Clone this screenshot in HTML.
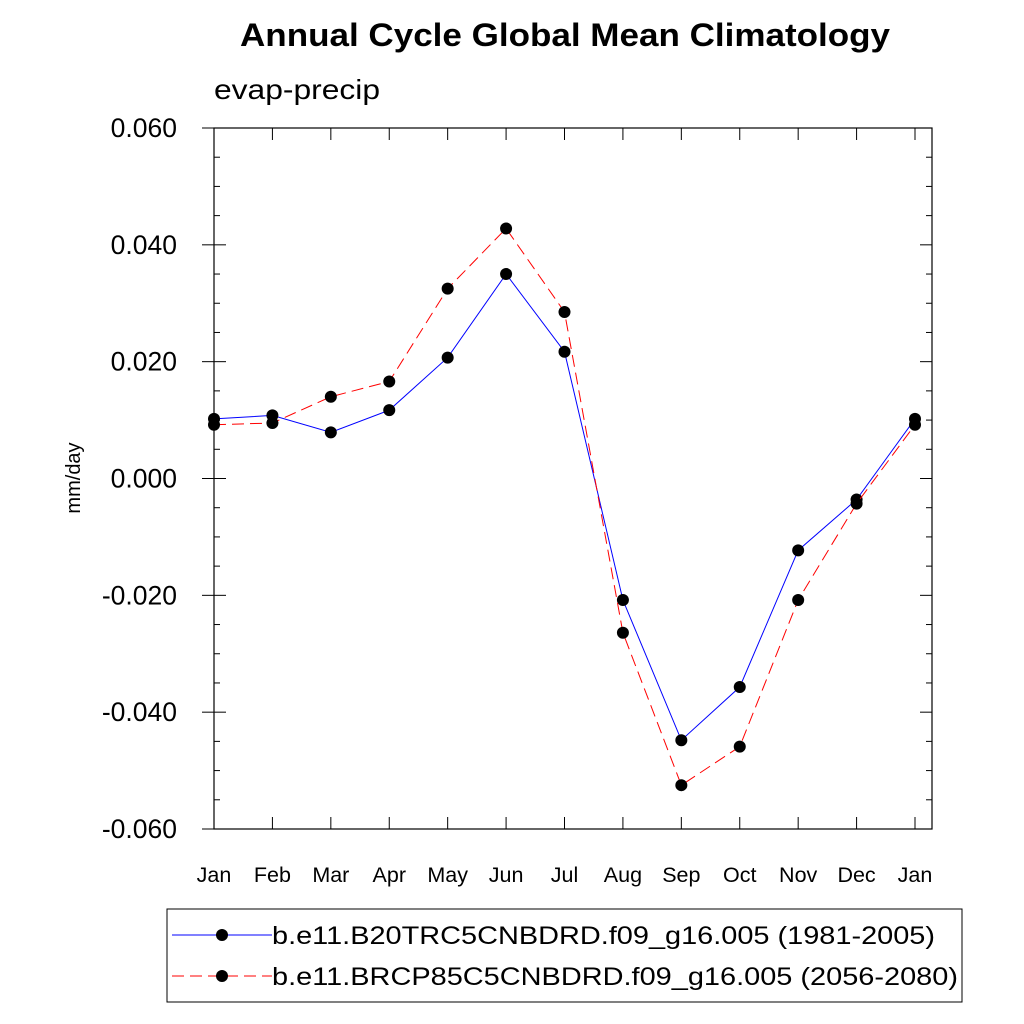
<!DOCTYPE html>
<html><head><meta charset="utf-8"><style>
body{margin:0;background:#fff;}
svg{display:block;font-family:"Liberation Sans",sans-serif;}
</style></head><body>
<svg id="chart" width="1024" height="1024" viewBox="0 0 1024 1024">
<text x="240" y="46" textLength="650" lengthAdjust="spacingAndGlyphs" font-size="32" font-weight="bold">Annual Cycle Global Mean Climatology</text>
<text x="214" y="99" textLength="166" lengthAdjust="spacingAndGlyphs" font-size="28">evap-precip</text>
<text transform="translate(80,478) rotate(-90)" text-anchor="middle" font-size="20">mm/day</text>
<rect x="214" y="128" width="718" height="701" fill="none" stroke="#000" stroke-width="1.2"/>
<g id="axes"></g>
<g id="series"></g>
<g>
<rect x="167" y="909" width="795" height="93" fill="#fff" stroke="#000" stroke-width="1"/>
<line x1="172" y1="935" x2="272" y2="935" stroke="#00f" stroke-width="1"/>
<circle cx="222" cy="935" r="6" fill="#000"/>
<text x="272" y="944" textLength="663" lengthAdjust="spacingAndGlyphs" font-size="25">b.e11.B20TRC5CNBDRD.f09_g16.005 (1981-2005)</text>
<line x1="172" y1="976" x2="272" y2="976" stroke="#f00" stroke-width="1" stroke-dasharray="12,6"/>
<circle cx="222" cy="976" r="6" fill="#000"/>
<text x="272" y="985" textLength="686" lengthAdjust="spacingAndGlyphs" font-size="25">b.e11.BRCP85C5CNBDRD.f09_g16.005 (2056-2080)</text>
</g>
</svg>
<script>
const months = ["Jan","Feb","Mar","Apr","May","Jun","Jul","Aug","Sep","Oct","Nov","Dec","Jan"];
const histValues = [0.0102,0.0108,0.0079,0.0117,0.0207,0.0350,0.0217,-0.0208,-0.0448,-0.0357,-0.0123,-0.0036,0.0102];
const rcpValues = [0.0092,0.0095,0.0140,0.0166,0.0325,0.0428,0.0285,-0.0264,-0.0525,-0.0459,-0.0208,-0.0043,0.0092];
const yTickValues = [0.06,0.04,0.02,0,-0.02,-0.04,-0.06];
const yTickLabels = ["0.060","0.040","0.020","0.000","-0.020","-0.040","-0.060"];

const NS="http://www.w3.org/2000/svg";
const x0=214,x1=915,yTop=128,yBot=829,right=932;
const xs=i=>x0+(x1-x0)*i/(months.length-1);
const ys=v=>yTop+(0.06-v)/0.12*(yBot-yTop);
function mk(tag,attrs,parent){const e=document.createElementNS(NS,tag);for(const k in attrs)e.setAttribute(k,attrs[k]);parent.appendChild(e);return e;}
const axes=document.getElementById('axes');
months.forEach((m,i)=>{
  const x=xs(i);
  const t1=mk('line',{x1:x,y1:yBot,x2:x,y2:yBot-12,stroke:'#000'},axes);
  
  
  const t2=mk('line',{x1:x,y1:yTop,x2:x,y2:yTop+12,stroke:'#000'},axes);
  
  
  const l=mk('text',{x:x,y:882,'text-anchor':'middle','font-size':21.5},axes);
  l.textContent=m;
  
  
});
for(let k=0;k<=24;k++){
  const v=0.06-k*0.005;const y=ys(v);const major=k%4===0;const len=major?12:6;
  const a=mk('line',{x1:x0,y1:y,x2:x0+len,y2:y,stroke:'#000'},axes);
  
  
  const b=mk('line',{x1:right,y1:y,x2:right-len,y2:y,stroke:'#000'},axes);
  
  
}
yTickValues.forEach((v,i)=>{
  const y=ys(v);
  const a=mk('line',{x1:x0,y1:y,x2:x0-12,y2:y,stroke:'#000'},axes);
  
  
  const t=mk('text',{x:177,y:y+9,'text-anchor':'end','font-size':26.5},axes);
  t.textContent=yTickLabels[i];
  
  
});
const series=document.getElementById('series');
function draw(vals,color,dash,name){
  const pts=vals.map((v,i)=>xs(i)+','+ys(v)).join(' ');
  const pl=mk('polyline',{points:pts,fill:'none',stroke:color,'stroke-width':1,'stroke-dasharray':dash},series);
  
  
  vals.forEach((v,i)=>{
    const c=mk('circle',{cx:xs(i),cy:ys(v),r:6,fill:'#000'},series);
    
    
  });
}
draw(histValues,'#00f','none','hist');
draw(rcpValues,'#f00','12,6','rcp');
</script>
</body></html>
